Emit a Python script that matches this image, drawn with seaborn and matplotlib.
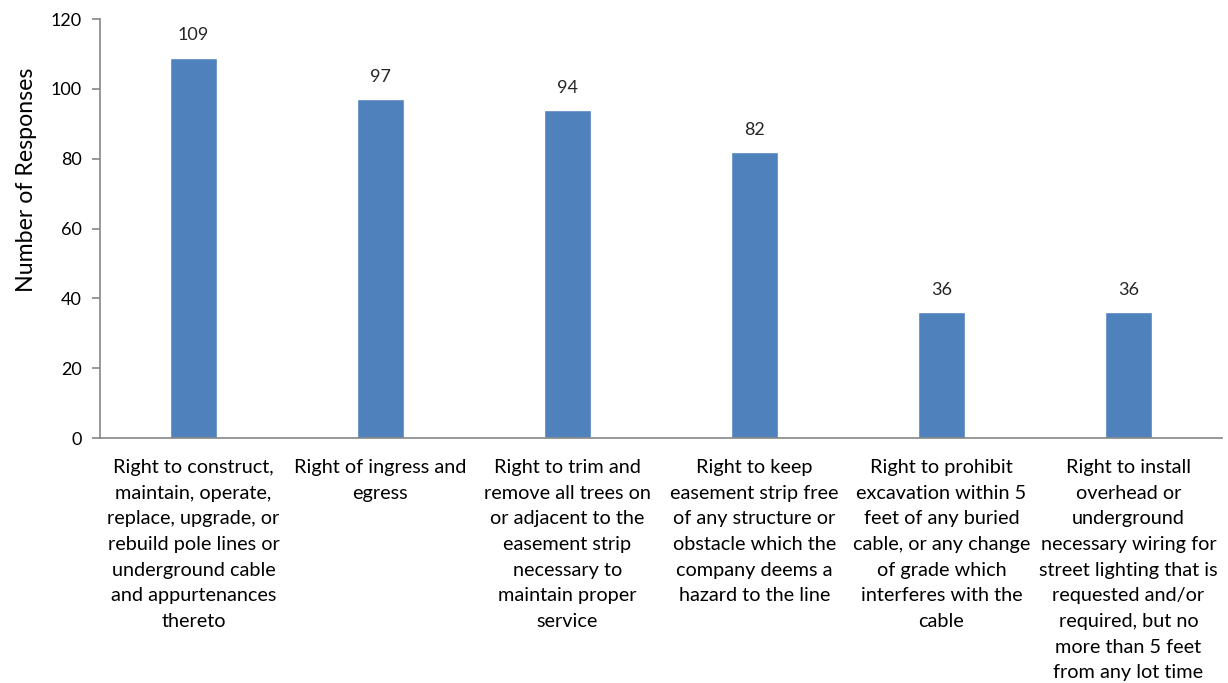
import pandas as pd
import seaborn as sns
import matplotlib.pyplot as plt

rights = [
    "Right to construct,\nmaintain, operate,\nreplace, upgrade, or\nrebuild pole lines or\nunderground cable\nand appurtenances\nthereto",
    "Right of ingress and\negress",
    "Right to trim and\nremove all trees on\nor adjacent to the\neasement strip\nnecessary to\nmaintain proper\nservice",
    "Right to keep\neasement strip free\nof any structure or\nobstacle which the\ncompany deems a\nhazard to the line",
    "Right to prohibit\nexcavation within 5\nfeet of any buried\ncable, or any change\nof grade which\ninterferes with the\ncable",
    "Right to install\noverhead or\nunderground\nnecessary wiring for\nstreet lighting that is\nrequested and/or\nrequired, but no\nmore than 5 feet\nfrom any lot time",
]
responses = [109, 97, 94, 82, 36, 36]

df = pd.DataFrame({"right": rights, "responses": responses})

sns.set_theme(style="white")
plt.rcParams["font.family"] = ["Lato", "DejaVu Sans"]

fig = plt.figure(figsize=(12.28, 6.83), dpi=100)
ax = fig.add_axes([0.0814, 0.3587, 0.9136, 0.6133])

sns.barplot(data=df, x="right", y="responses", color="#4F81BD", width=0.255,
            saturation=1, ax=ax)

ax.set_ylim(0, 120)
ax.set_yticks(range(0, 121, 20))
ax.set_xlim(-0.5, len(rights) - 0.5)
ax.set_xlabel("")
ax.set_ylabel("Number of Responses", fontsize=16.7, color="#000000")
ax.yaxis.set_label_coords(-0.056, 0.616)

for side in ["top", "right"]:
    ax.spines[side].set_visible(False)
for side in ["left", "bottom"]:
    ax.spines[side].set_color("#868686")
    ax.spines[side].set_linewidth(1.2)

ax.tick_params(axis="y", which="major", left=True, length=6, width=1.2,
               color="#868686", labelsize=13, pad=7, labelcolor="#000000")
ax.tick_params(axis="x", bottom=False, labelsize=14.3, pad=9, labelcolor="#000000")
for lbl in ax.get_xticklabels():
    lbl.set_verticalalignment("top")
    lbl.set_horizontalalignment("center")
    lbl.set_linespacing(1.62)

# Annotate the bars
for bar in ax.patches:
    x_val = bar.get_x() + bar.get_width() / 2
    y_val = bar.get_height()
    ax.annotate(
        text=f"{y_val:.0f}",
        xy=(x_val, y_val),
        xytext=(0, 16),
        ha="center",
        va="center",
        size=13,
        textcoords="offset points",
    )

fig.savefig("out.png", dpi=100)
